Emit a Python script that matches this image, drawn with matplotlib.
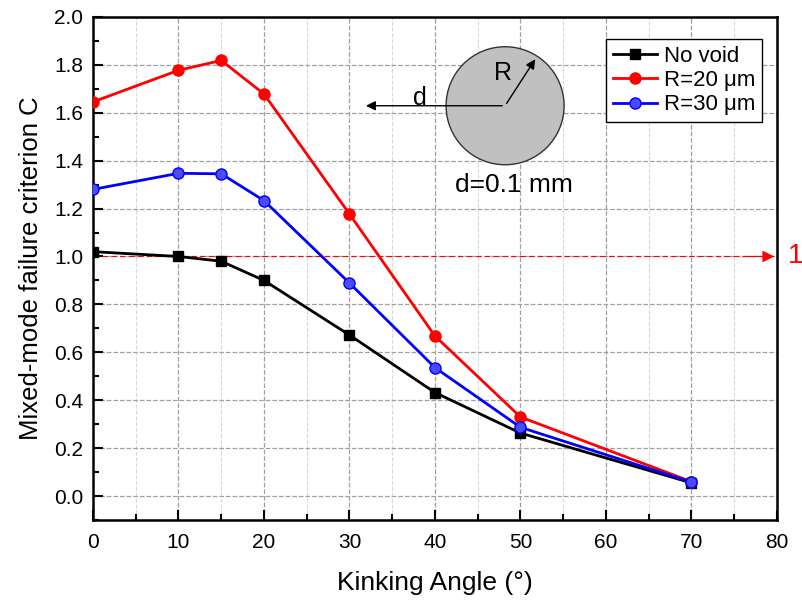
#---Import useful libraries---
import numpy as np
import matplotlib.pyplot as plt
from matplotlib.patches import Ellipse
from matplotlib.ticker import MultipleLocator

plt.rcParams['font.family'] = ['Liberation Sans', 'DejaVu Sans']

#---Data---
angle = [0, 10, 15, 20, 30, 40, 50, 70]
c_no_void = [1.02, 1.00, 0.98, 0.90, 0.672, 0.432, 0.263, 0.055]
c_r20 = [1.645, 1.777, 1.818, 1.678, 1.177, 0.668, 0.330, 0.060]
c_r30 = [1.280, 1.347, 1.345, 1.233, 0.889, 0.536, 0.287, 0.058]
labels = ["No void", "R=20 μm", "R=30 μm"]

#---Figure and axes---
fig = plt.figure(figsize=(8.03, 6.04), dpi=100)
ax = fig.add_axes([0.1158, 0.139, 0.8518, 0.8331])

ax.plot(angle, c_no_void, 'k-', marker='s', ms=7, lw=2, label=labels[0], zorder=5)
ax.plot(angle, c_r20, color='#ff0000', marker='o', ms=8, lw=2, label=labels[1], zorder=5)
ax.plot(angle, c_r30, color='#0000ff', marker='o', ms=8, lw=2, mfc='#4a4aff',
        mec='#0000ff', label=labels[2], zorder=5)

#---Reference line at C = 1---
ax.axhline(1.0, color='red', lw=0.8, ls=(0, (5, 3)), zorder=2)
ax.annotate('', xy=(80, 1.0), xytext=(76, 1.0),
            arrowprops=dict(arrowstyle='-|>', color='red', lw=0.8, mutation_scale=18),
            annotation_clip=False)
ax.text(81.3, 1.0, '1', color='red', fontsize=20, va='center', ha='left',
        clip_on=False)

#---Axis settings---
ax.set_xlim(0, 80)
ax.set_ylim(-0.1, 2.0)
ax.xaxis.set_major_locator(MultipleLocator(10))
ax.xaxis.set_minor_locator(MultipleLocator(5))
ax.yaxis.set_major_locator(MultipleLocator(0.2))
ax.yaxis.set_minor_locator(MultipleLocator(0.1))
ax.yaxis.set_major_formatter(plt.FormatStrFormatter('%.1f'))
ax.tick_params(which='both', direction='in', labelsize=15, width=1.5)
ax.tick_params(which='major', length=7)
ax.tick_params(which='minor', length=4)
ax.tick_params(axis='x', which='major', pad=9)
ax.tick_params(axis='y', which='major', pad=7)
ax.grid(which='major', color='#a0a0a0', ls='--', lw=0.9)
ax.grid(which='minor', axis='x', color='#d8d8d8', ls='--', lw=0.8)
for s in ax.spines.values():
    s.set_linewidth(1.8)
ax.set_xlabel("Kinking Angle (°)", fontsize=19, labelpad=14)
ax.set_ylabel("Mixed-mode failure criterion C", fontsize=18.5, labelpad=8)

#---Inset sketch of the void---
cx, cy = 48.2, 1.629
px_per_x = 684 / 80
px_per_y = 503 / 2.1
ell = Ellipse((cx, cy), width=2 * 59 / px_per_x, height=2 * 59 / px_per_y,
              facecolor='#c0c0c0', edgecolor='#333333', lw=1, zorder=3)
ax.add_patch(ell)
ax.annotate('', xy=(31.6, cy), xytext=(cx, cy),
            arrowprops=dict(arrowstyle='-|>', color='black', lw=1, mutation_scale=14),
            zorder=4)
ax.annotate('', xy=(51.9, 1.833), xytext=(cx, cy),
            arrowprops=dict(arrowstyle='-|>', color='black', lw=1, mutation_scale=14),
            zorder=4)
ax.text(38.2, 1.662, 'd', fontsize=18, ha='center', va='center', zorder=4)
ax.text(48.0, 1.766, 'R', fontsize=18, ha='center', va='center', zorder=4)
ax.text(49.2, 1.299, 'd=0.1 mm', fontsize=19, ha='center', va='center', zorder=4)

#---Legend---
leg = ax.legend(loc='upper right', bbox_to_anchor=(0.978, 0.956), fontsize=16,
                fancybox=False, edgecolor='black', framealpha=1,
                handlelength=2.0, borderpad=0.3, labelspacing=0.15,
                handletextpad=0.3, borderaxespad=0)
leg.get_frame().set_linewidth(1)

plt.savefig("out.png", dpi=100)
